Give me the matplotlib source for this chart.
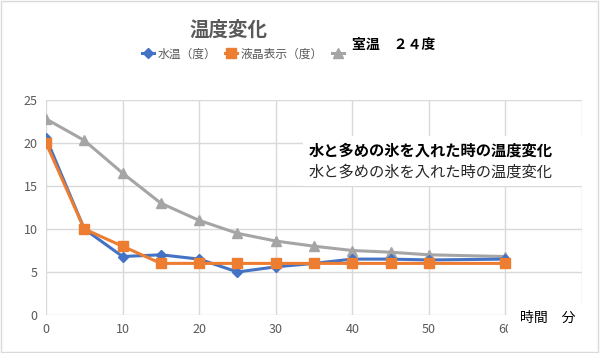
import matplotlib.pyplot as plt
from matplotlib.patches import Rectangle

plt.rcParams['font.family'] = ['Noto Sans CJK JP', 'DejaVu Sans']

# time (minutes)
minutes = [0, 5, 10, 15, 20, 25, 30, 35, 40, 45, 50, 60]

water_temp = [20.6, 10.0, 6.8, 7.0, 6.5, 5.0, 5.6, 6.0, 6.5, 6.5, 6.4, 6.5]
lcd_temp = [20.0, 10.0, 8.0, 6.0, 6.0, 6.0, 6.0, 6.0, 6.0, 6.0, 6.0, 6.0]
third_series = [22.8, 20.3, 16.5, 13.0, 11.0, 9.5, 8.6, 8.0, 7.5, 7.3, 7.0, 6.8]

labels = ['水温（度）', '液晶表示（度）', ' ']
x_ticks = list(range(0, 71, 10))
x_tick_labels = ['0', '10', '20', '30', '40', '50', '60', '']

fig = plt.figure(figsize=(6, 3.53), dpi=100)
ax = fig.add_axes([46 / 600, 1 - 315 / 353, 536 / 600, 215 / 353])

h1, = ax.plot(minutes, water_temp, color='#4472C4', lw=2.2, marker='D', ms=5.5, zorder=3)
h2, = ax.plot(minutes, lcd_temp, color='#ED7D31', lw=2.2, marker='s', ms=7, zorder=4)
h3, = ax.plot(minutes, third_series, color='#A5A5A5', lw=2.2, marker='^', ms=7.5, zorder=2)

ax.set_xlim(0, 70)
ax.set_ylim(0, 25)
ax.set_xticks(x_ticks)
ax.set_xticklabels(x_tick_labels)
ax.set_yticks(range(0, 26, 5))
ax.grid(True, color='#D9D9D9', lw=1)
ax.set_axisbelow(True)
for s in ax.spines.values():
    s.set_visible(False)
ax.tick_params(length=0, labelsize=9, colors='#595959', pad=6)

fig.text(228 / 600, 1 - 30 / 353, '温度変化', ha='center', va='center',
         fontsize=14, fontweight='bold', color='#595959')
fig.text(352 / 600, 1 - 45 / 353, '室温　２４度', ha='left', va='center',
         fontsize=10, fontweight='bold', color='black')

leg = fig.legend([h1, h2, h3], labels, loc='center left', bbox_to_anchor=(136 / 600, 1 - 54 / 353),
                 ncol=3, frameon=False, fontsize=8.5, labelcolor='#595959', handlelength=1.0,
                 handletextpad=0.3, columnspacing=0.8, borderpad=0)

# white text box with caption
fig.patches.append(Rectangle((303 / 600, 1 - 186 / 353), 280 / 600, 50 / 353,
                             transform=fig.transFigure, facecolor='white', edgecolor='none', zorder=5))
fig.text(309 / 600, 1 - 151 / 353, '水と多めの氷を入れた時の温度変化', fontsize=11,
         fontweight='bold', color='black', va='center', zorder=6)
fig.text(309 / 600, 1 - 172 / 353, '水と多めの氷を入れた時の温度変化', fontsize=11,
         color='#262626', va='center', zorder=6)

# axis title box
fig.patches.append(Rectangle((508 / 600, 1 - 340 / 353), 75 / 600, 36 / 353,
                             transform=fig.transFigure, facecolor='white', edgecolor='none', zorder=5))
fig.text(520 / 600, 1 - 318 / 353, '時間　分', fontsize=10, color='black', va='center', zorder=6)

# outer border
fig.patches.append(Rectangle((0.002, 0.003), 0.995, 0.993, transform=fig.transFigure,
                             facecolor='none', edgecolor='#D9D9D9', lw=1))

fig.savefig('out.png', dpi=100)
